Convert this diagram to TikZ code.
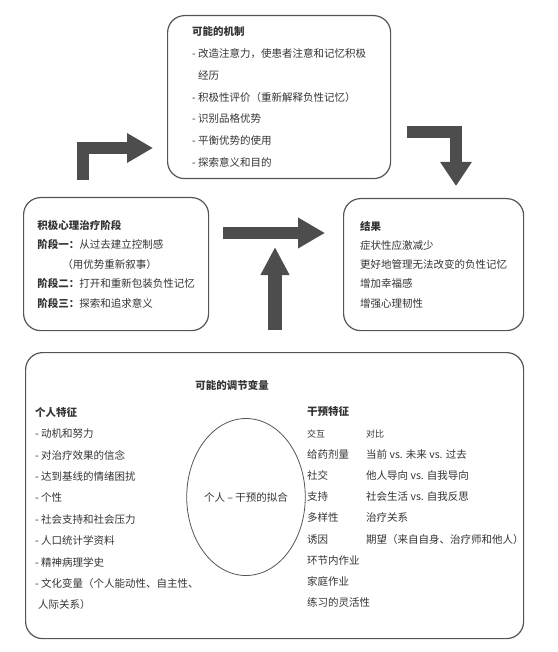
\documentclass[tikz,border=0pt]{standalone}
\usepackage{fontspec}
\setmainfont{Noto Sans CJK SC}
\usepackage{tikz}
\usetikzlibrary{shapes.geometric, arrows.meta, positioning}
\definecolor{linegray}{HTML}{555555}
\definecolor{arrowgray}{HTML}{4D4D4D}
\definecolor{textgray}{HTML}{333333}
\tikzstyle{box} = [rectangle, rounded corners=17pt, draw=linegray, line width=1.2pt, align=left, text=textgray, anchor=north west, inner sep=0pt]
\tikzstyle{plain} = [align=left, text=textgray, inner sep=0pt]
\tikzstyle{blockarrow} = [draw=arrowgray, line width=12pt, line join=miter, -{Triangle[width=28pt,length=26pt]}]

\begin{document}
\begin{tikzpicture}[x=1pt, y=-1pt]
        \useasboundingbox (0,0) rectangle (557,652);

        % Kaestchen oben, links, rechts
        \node (mech) [box, minimum width=223pt, minimum height=163pt, font=\fontsize{10.5}{21.8}\selectfont] at (167,15) {\textbf{可能的机制}\\- 改造注意力，使患者注意和记忆积极\\\hspace{6pt}经历\\- 积极性评价（重新解释负性记忆）\\- 识别品格优势\\- 平衡优势的使用\\- 探索意义和目的};
        \node (phase) [box, minimum width=185pt, minimum height=133pt, font=\fontsize{10.5}{19.5}\selectfont] at (23,197) {\textbf{积极心理治疗阶段}\\\textbf{阶段一：}从过去建立控制感\\\hspace{25pt}（用优势重新叙事）\\\textbf{阶段二：}打开和重新包装负性记忆\\\textbf{阶段三：}探索和追求意义};
        \node (result) [box, minimum width=180pt, minimum height=132pt, font=\fontsize{10.5}{19.3}\selectfont] at (343,198) {\textbf{结果}\\症状性应激减少\\更好地管理无法改变的负性记忆\\增加幸福感\\增强心理韧性};

        % Kaestchen unten
        \node (moder) [box, minimum width=498pt, minimum height=286pt] at (25,352) {};
        \node (modtitle) [plain, font=\fontsize{10.5}{12}\selectfont\bfseries] at (232,385) {可能的调节变量};
        \node (fit) [ellipse, draw=linegray, line width=0.8pt, minimum width=112pt, minimum height=157pt, plain, font=\fontsize{10.5}{12}\selectfont] at (246,497) {个人 – 干预的拟合};
        \node (person) [plain, anchor=west, font=\fontsize{10.5}{21.4}\selectfont] at (35,508.5) {\textbf{个人特征}\\- 动机和努力\\- 对治疗效果的信念\\- 达到基线的情绪困扰\\- 个性\\- 社会支持和社会压力\\- 人口统计学资料\\- 精神病理学史\\- 文化变量（个人能动性、自主性、\\\hspace{3pt}人际关系）};
        \node (interv) [plain, anchor=west, font=\fontsize{10.5}{21.2}\selectfont] at (307,507) {\begin{tabular}{@{}l@{\hspace{17pt}}l@{}}
                \multicolumn{2}{@{}l@{}}{\textbf{干预特征}}\\
                {\fontsize{9}{10}\selectfont 交互} & {\fontsize{9}{10}\selectfont 对比}\\
                给药剂量 & 当前 vs. 未来 vs. 过去\\
                社交 & 他人导向 vs. 自我导向\\
                支持 & 社会生活 vs. 自我反思\\
                多样性 & 治疗关系\\
                诱因 & 期望（来自自身、治疗师和他人）\\
                \multicolumn{2}{@{}l@{}}{环节内作业}\\
                \multicolumn{2}{@{}l@{}}{家庭作业}\\
                \multicolumn{2}{@{}l@{}}{练习的灵活性}
            \end{tabular}};

        % Pfeile
        \coordinate (a1s) at (83,180);
        \coordinate (a1e) at (153,148);
        \coordinate (a2s) at (407,132.5);
        \coordinate (a2e) at (456,186);
        \coordinate (a3s) at (223,233);
        \coordinate (a3e) at (325,233);
        \coordinate (a4s) at (275,330);
        \coordinate (a4e) at (275,247);
        \draw [blockarrow] (a1s) |- (a1e);
        \draw [blockarrow, -{Triangle[width=30pt,length=24pt]}] (a2s) -| (a2e);
        \draw [blockarrow, -{Triangle[width=29pt,length=27pt]}] (a3s) -- (a3e);
        \draw [blockarrow, line width=14pt, -{Triangle[width=27pt,length=28pt]}] (a4s) -- (a4e);
    \end{tikzpicture}
\end{document}
